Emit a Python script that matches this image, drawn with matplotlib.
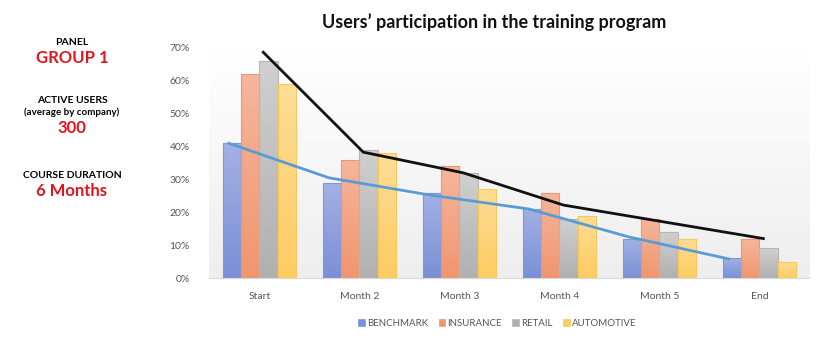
import numpy as np
import matplotlib
matplotlib.use("Agg")
import matplotlib.pyplot as plt
from matplotlib.colors import LinearSegmentedColormap

plt.rcParams['font.family'] = ['Lato', 'DejaVu Sans']

# Data
categories = ['Start', 'Month 2', 'Month 3', 'Month 4', 'Month 5', 'End']
benchmark = [0.41, 0.29, 0.26, 0.21, 0.12, 0.06]
insurance = [0.62, 0.36, 0.34, 0.26, 0.18, 0.12]
retail = [0.66, 0.39, 0.32, 0.18, 0.14, 0.09]
automotive = [0.59, 0.38, 0.27, 0.19, 0.12, 0.05]
trend_benchmark = [0.41, 0.305, 0.253, 0.21, 0.125, 0.058]
trend_top = [0.687, 0.383, 0.32, 0.222, 0.171, 0.12]

series = [
    ('BENCHMARK', benchmark, '#7a8fd6', '#a3b1e4', '#8196d9'),
    ('INSURANCE', insurance, '#f0966f', '#f6b69c', '#eb9676'),
    ('RETAIL', retail, '#b0b0b0', '#d0d0d0', '#b5b5b5'),
    ('AUTOMOTIVE', automotive, '#fdcc62', '#fedd96', '#f8c85a'),
]

fig = plt.figure(figsize=(8.37, 3.43), dpi=100)
ax = fig.add_axes([0.250, 0.1895, 0.717, 0.6706])

x = np.arange(len(categories))
w = 0.183

# plot area background: white at top to light grey at bottom
bg = np.linspace(0, 1, 256).reshape(-1, 1)
bg_cmap = LinearSegmentedColormap.from_list('bg', ['#ffffff', '#eeeeee'])
ax.imshow(bg, cmap=bg_cmap, aspect='auto', extent=[-0.5, 5.5, 0, 0.7],
          origin='upper', zorder=0)

handles = []
for i, (name, vals, dark, light, edge) in enumerate(series):
    offs = (i - 1.5) * w
    bars = ax.bar(x + offs, vals, w, facecolor='none', edgecolor=edge,
                  linewidth=0.8, zorder=3, label=name)
    cm = LinearSegmentedColormap.from_list(name, [dark, light])
    for b in bars:
        grad = np.linspace(0, 1, 256).reshape(-1, 1)
        im = ax.imshow(grad, cmap=cm, aspect='auto', origin='lower',
                       extent=[b.get_x(), b.get_x() + b.get_width(), 0, b.get_height()],
                       zorder=2)
        im.set_clip_path(b)
    handles.append(plt.Rectangle((0, 0), 1, 1, facecolor=dark, edgecolor=edge, linewidth=0.5))

ax.plot(x - 1.5 * w - 0.03, trend_benchmark, color='#5b9bd5', linewidth=2, zorder=4)
ax.plot(x + 0.04, trend_top, color='#111111', linewidth=2, zorder=5)

ax.set_xlim(-0.5, 5.5)
ax.set_ylim(0, 0.7)
ax.set_xticks(x)
ax.set_xticklabels(categories)
ax.set_yticks(np.arange(0, 0.71, 0.1))
ax.set_yticklabels([f'{int(round(v * 100))}%' for v in np.arange(0, 0.71, 0.1)])
ax.tick_params(axis='both', length=0, labelsize=7.5, colors='#555555')
ax.tick_params(axis='x', pad=10)
ax.tick_params(axis='y', pad=14)
for s in ['top', 'right', 'left']:
    ax.spines[s].set_visible(False)
ax.spines['bottom'].set_color('#d9d9d9')

ax.legend(handles, [s[0] for s in series], loc='upper center',
          bbox_to_anchor=(0.48, -0.14), ncol=4, frameon=False, fontsize=7,
          handlelength=0.7, handleheight=0.7, handletextpad=0.2,
          columnspacing=1.1, labelcolor='#555555')

fig.text(0.59, 0.935, 'Users\u2019 participation in the training program',
         ha='center', va='center', fontsize=13, fontweight='bold', color='#111111')

red = '#e3141d'
lx = 0.086
fig.text(lx, 0.875, 'PANEL', ha='center', va='center', fontsize=7.5, fontweight='bold')
fig.text(lx, 0.832, 'GROUP 1', ha='center', va='center', fontsize=12, fontweight='bold', color=red)
fig.text(lx, 0.708, 'ACTIVE USERS', ha='center', va='center', fontsize=7.5, fontweight='bold')
fig.text(lx, 0.673, '(average by company)', ha='center', va='center', fontsize=7, fontweight='bold')
fig.text(lx, 0.628, '300', ha='center', va='center', fontsize=12, fontweight='bold', color=red)
fig.text(lx, 0.487, 'COURSE DURATION', ha='center', va='center', fontsize=7.5, fontweight='bold')
fig.text(lx, 0.443, '6 Months', ha='center', va='center', fontsize=12, fontweight='bold', color=red)

fig.savefig('out.png', dpi=100)
